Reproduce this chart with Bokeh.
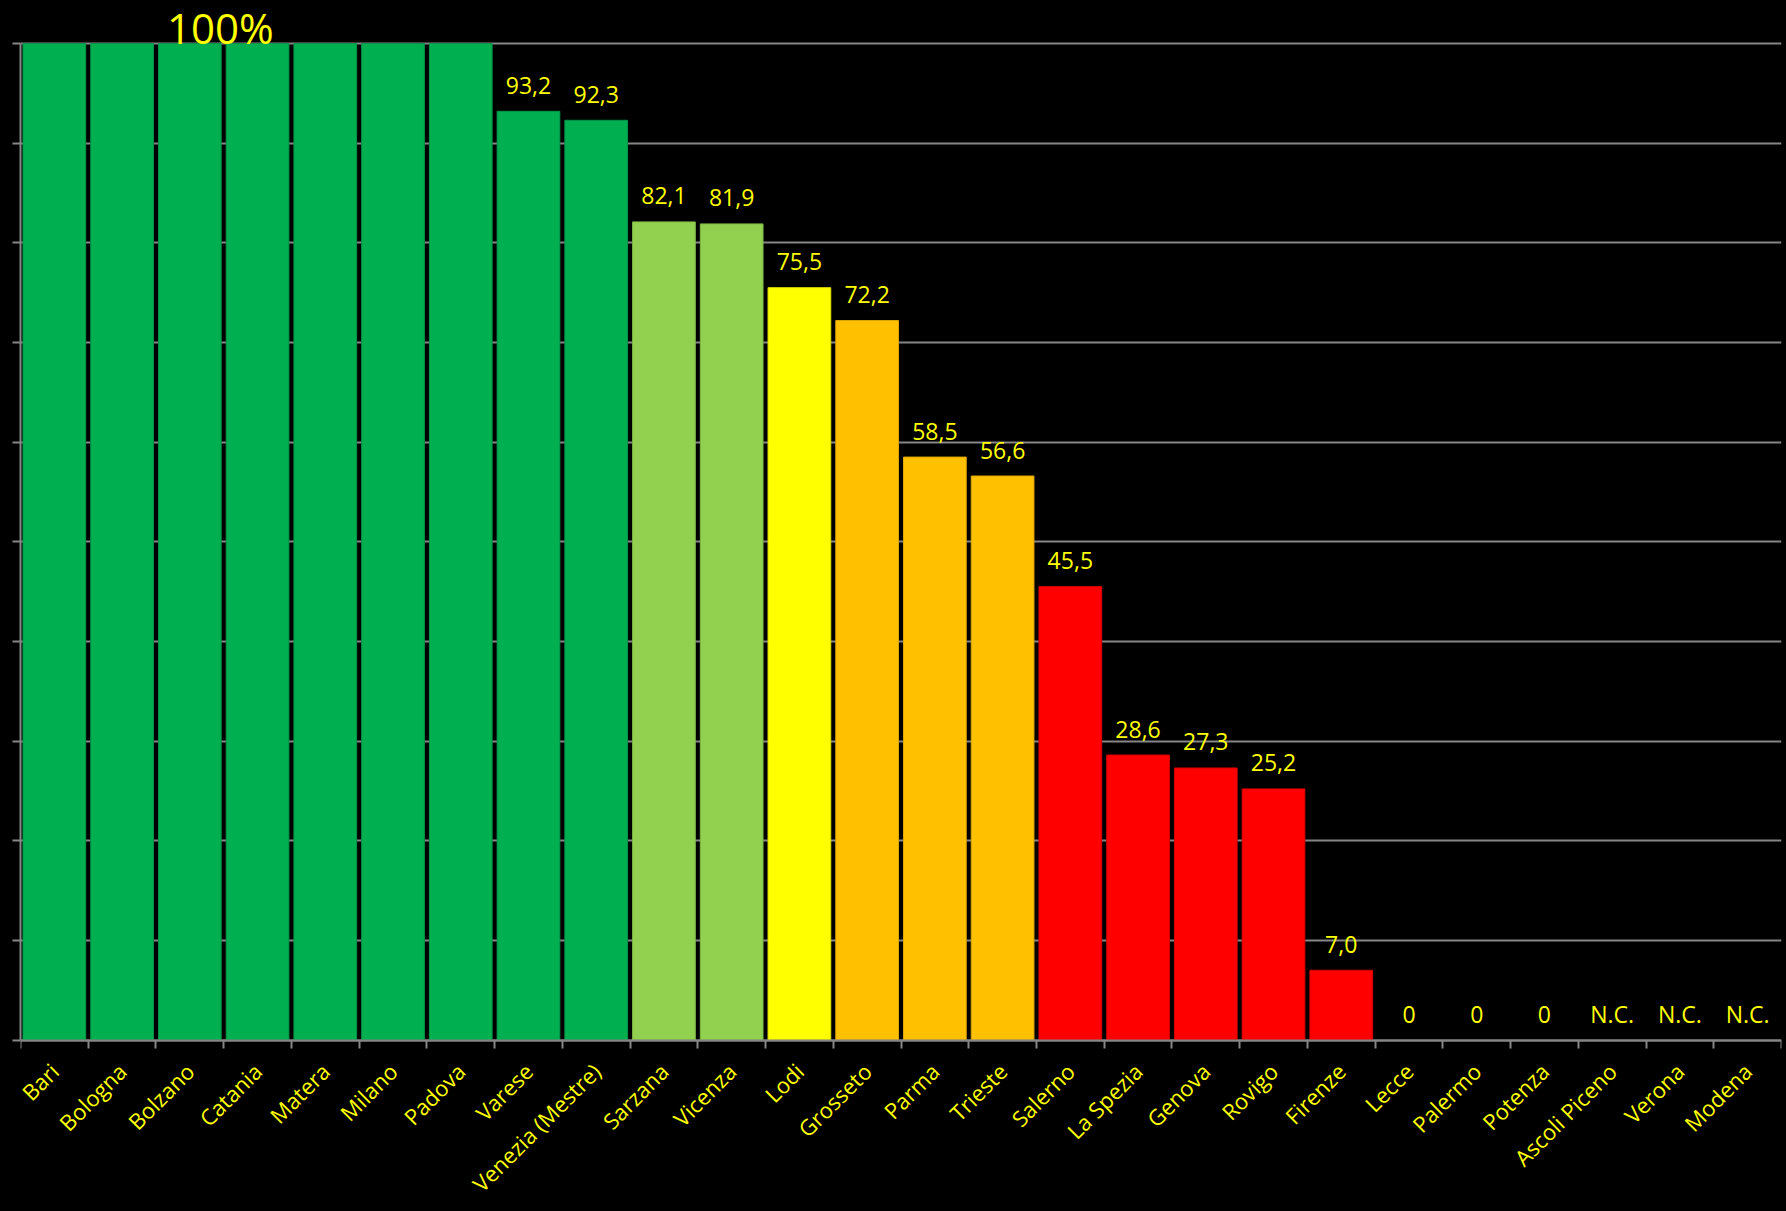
import math
from bokeh.plotting import figure
from bokeh.models import ColumnDataSource, FixedTicker, Range1d
from bokeh.core.properties import value
from bokeh.embed import file_html
from bokeh.resources import INLINE

cities = ["Bari", "Bologna", "Bolzano", "Catania", "Matera", "Milano", "Padova",
          "Varese", "Venezia (Mestre)", "Sarzana", "Vicenza", "Lodi", "Grosseto",
          "Parma", "Trieste", "Salerno", "La Spezia", "Genova", "Rovigo", "Firenze",
          "Lecce", "Palermo", "Potenza", "Ascoli Piceno", "Verona", "Modena"]
values = [100, 100, 100, 100, 100, 100, 100, 93.2, 92.3, 82.1, 81.9, 75.5, 72.2,
          58.5, 56.6, 45.5, 28.6, 27.3, 25.2, 7.0, 0, 0, 0, None, None, None]
y_ticks = [0, 10, 20, 30, 40, 50, 60, 70, 80, 90, 100]
note_text = ["100%"]
note_x = [2.95]
note_y = [100]

FONT = "Open Sans"
YELLOW = "#FFFF00"
GRAY = "#868686"

def band(v):
    if v >= 90:
        return "#00B050", "#00964A"
    if v >= 80:
        return "#92D050", "#7DB845"
    if v >= 75:
        return "#FFFF00", "#E0E000"
    if v >= 50:
        return "#FFC000", "#E0A800"
    return "#FF0000", "#D80000"

def label_of(v):
    if v is None:
        return "N.C."
    if v == 0:
        return "0"
    if v == 100:
        return ""
    return f"{v:.1f}".replace(".", ",")

n = len(cities)
centers = [i + 0.5 for i in range(n)]

bx, btop, bfill, bline = [], [], [], []
for c, v in zip(centers, values):
    if v:
        f, l = band(v)
        bx.append(c); btop.append(v); bfill.append(f); bline.append(l)
bars = ColumnDataSource(dict(x=bx, top=btop, fill=bfill, line=bline))

lx, ly, lt = [], [], []
for c, v in zip(centers, values):
    t = label_of(v)
    if t:
        lx.append(c); ly.append(v if v else 0); lt.append(t)
labels = ColumnDataSource(dict(x=lx, y=ly, t=lt))

W, H = 1786, 1211
# frame spans the whole height; the x axis is pinned at y=0 inside it,
# leaving room below for the rotated category names
p = figure(width=W, height=H, output_backend="svg", toolbar_location=None,
           x_range=Range1d(0, n), y_range=Range1d(-17.21, 104.32),
           min_border_left=20, min_border_right=5, min_border_top=0,
           min_border_bottom=0)
p.background_fill_color = "black"
p.border_fill_color = "black"
p.outline_line_color = None

p.vbar(x="x", top="top", bottom=0, width=0.926, source=bars,
       fill_color="fill", line_color="line", line_width=1)

p.text(x="x", y="y", text="t", source=labels, text_align="center",
       text_baseline="middle", y_offset=-26, text_color=YELLOW,
       text_font=value(FONT), text_font_size="23px")

p.text(x=note_x, y=note_y, text=note_text, text_align="center",
       text_baseline="middle", y_offset=-16, text_color=YELLOW,
       text_font=value(FONT), text_font_size="42px")

# y axis
ya = p.yaxis[0]
ya.ticker = FixedTicker(ticks=y_ticks, minor_ticks=[])
ya.bounds = (0, 100)
ya.axis_line_color = GRAY
ya.axis_line_width = 2
ya.major_tick_line_color = GRAY
ya.major_tick_line_width = 2
ya.major_tick_out = 8
ya.major_tick_in = 0
ya.minor_tick_line_color = None
ya.major_label_overrides = {t: "" for t in y_ticks}
ya.major_label_standoff = 0

# x axis
xa = p.xaxis[0]
xa.fixed_location = 0
xa.ticker = FixedTicker(ticks=centers, minor_ticks=list(range(n + 1)))
xa.major_label_overrides = {c: name for c, name in zip(centers, cities)}
xa.major_label_orientation = math.pi / 4
xa.major_label_text_color = YELLOW
xa.major_label_text_font = FONT
xa.major_label_text_font_size = "22px"
xa.major_label_standoff = 19
xa.axis_line_color = GRAY
xa.axis_line_width = 2
xa.major_tick_line_color = None
xa.major_tick_out = 0
xa.major_tick_in = 0
xa.minor_tick_line_color = GRAY
xa.minor_tick_line_width = 2
xa.minor_tick_out = 8
xa.minor_tick_in = 0

p.xgrid.visible = False
p.ygrid.ticker = FixedTicker(ticks=y_ticks)
p.ygrid.grid_line_color = GRAY
p.ygrid.grid_line_width = 2

html = file_html(p, INLINE)
html = html.replace("<head>", "<head><style>html,body{background:#000;}</style>", 1)
open("out.html", "w").write(html)
